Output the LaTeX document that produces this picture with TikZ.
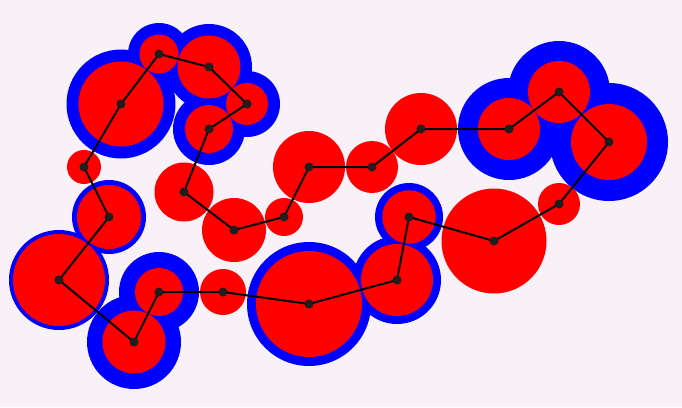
\documentclass[tikz,border=0pt]{standalone}
\definecolor{bg}{RGB}{248,242,248}
\definecolor{ringblue}{RGB}{0,0,255}
\definecolor{discred}{RGB}{255,0,0}
\definecolor{dotcol}{RGB}{30,30,30}
\tikzset{
  ring/.style={fill=ringblue},
  disc/.style={fill=discred},
  link/.style={draw=black,line width=2pt,line join=round},
  dot/.style={circle,fill=dotcol,inner sep=0pt,minimum size=9pt}
}
\begin{document}
\begin{tikzpicture}[x=1pt,y=-1pt]
\fill[bg] (0,0) rectangle (682,407);
\useasboundingbox (0,0) rectangle (682,407);
\def\pts{1/84/167/17/0, 2/121/104/42.5/54.5, 3/159/54/19.5/31, 4/209/67/31.5/43, 5/247/104/21/33, 6/209/129/24/36, 7/184/192/29.5/0, 8/234/230/32/0, 9/284/217/19/0, 10/309/167/36/0, 11/372/167/26/0, 12/421/129/36/0, 13/509/129/31/51, 14/559/92/31/51, 15/609/142/38/59, 16/559/204/21/0, 17/494/241/52.5/0, 18/409/217/26.7/34, 19/397/280/36/44, 20/309/304/53/62, 21/223/292/23/0, 22/159/292/24/40, 23/134/342/31.5/47, 24/59/280/46/50, 25/109/217/32/37}
\foreach \i/\x/\y/\r/\R in \pts {\coordinate (p\i) at (\x,\y);}
\foreach \i/\x/\y/\r/\R in \pts {\ifdim\R pt>0pt \fill[ring] (p\i) circle[radius=\R pt];\fi}
\foreach \i/\x/\y/\r/\R in \pts {\fill[disc] (p\i) circle[radius=\r pt];}
\draw[link] (p1) -- (p2) -- (p3) -- (p4) -- (p5) -- (p6) -- (p7) -- (p8) -- (p9) -- (p10) -- (p11) -- (p12) -- (p13) -- (p14) -- (p15) -- (p16) -- (p17) -- (p18) -- (p19) -- (p20) -- (p21) -- (p22) -- (p23) -- (p24) -- (p25) -- cycle;
\foreach \i in {1,...,25} {\node[dot] (d\i) at (p\i) {};}
\end{tikzpicture}
\end{document}
